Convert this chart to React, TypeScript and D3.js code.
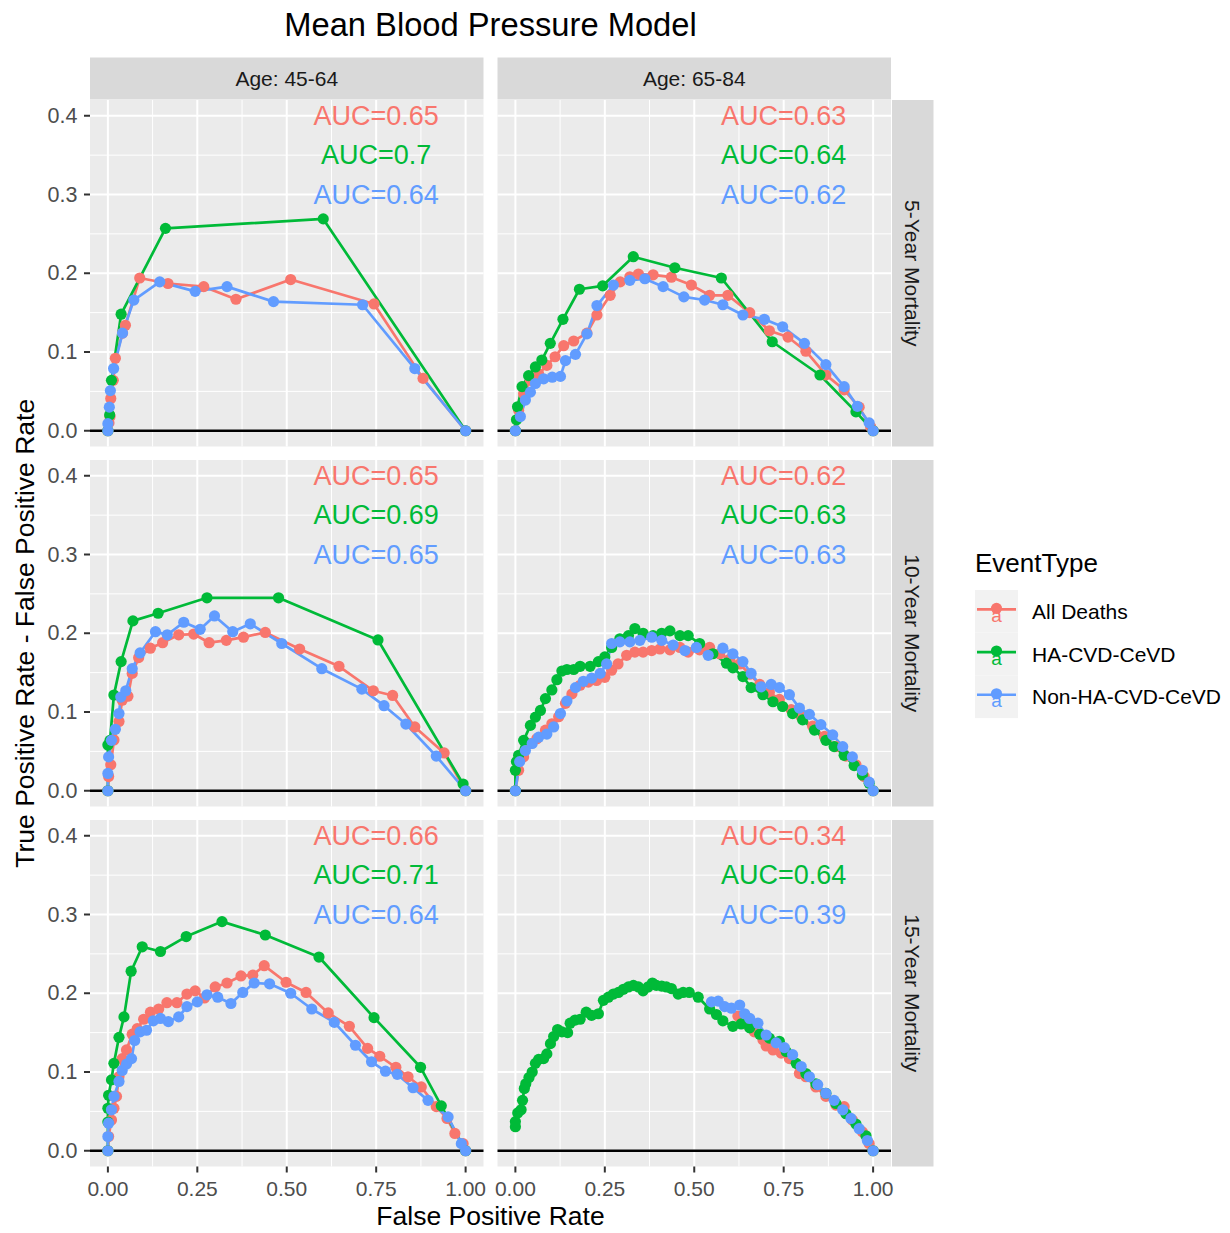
import React from 'react';
import * as d3 from 'd3';

const W = 1230;
const H = 1233;

const ageGroups = ['Age: 45-64', 'Age: 65-84'];
const horizons = ['5-Year Mortality', '10-Year Mortality', '15-Year Mortality'];
const eventTypes = ['All Deaths', 'HA-CVD-CeVD', 'Non-HA-CVD-CeVD'];
const eventColors = ['#F8766D', '#00BA38', '#619CFF'];

const xTicks = [0, 0.25, 0.5, 0.75, 1];
const yTicks = [0, 0.1, 0.2, 0.3, 0.4];
const xMinor = [0.125, 0.375, 0.625, 0.875];
const yMinor = [0.05, 0.15, 0.25, 0.35];

// AUC labels: [row][col][event]
const aucRow5 = [['AUC=0.65', 'AUC=0.7', 'AUC=0.64'], ['AUC=0.63', 'AUC=0.64', 'AUC=0.62']];
const aucRow10 = [['AUC=0.65', 'AUC=0.69', 'AUC=0.65'], ['AUC=0.62', 'AUC=0.63', 'AUC=0.63']];
const aucRow15 = [['AUC=0.66', 'AUC=0.71', 'AUC=0.64'], ['AUC=0.34', 'AUC=0.64', 'AUC=0.39']];
const aucLabelY = [0.4, 0.35, 0.3];
const aucLabelX = 0.75;

type Pt = [number, number];

// 5-Year, Age 45-64
const y5a45_all: Pt[] = [[0,0],[0.003,0.01],[0.006,0.018],[0.008,0.041],[0.015,0.064],[0.021,0.092],[0.041,0.124],[0.049,0.134],[0.089,0.194],[0.168,0.187],[0.268,0.183],[0.358,0.167],[0.511,0.192],[0.744,0.161],[0.881,0.0665],[1,0]];
const y5a45_ha: Pt[] = [[0,0],[0.005,0.02],[0.01,0.064],[0.037,0.148],[0.161,0.257],[0.602,0.269],[1,0]];
const y5a45_non: Pt[] = [[0,0],[0,0.009],[0.004,0.03],[0.007,0.051],[0.016,0.079],[0.041,0.124],[0.0725,0.166],[0.145,0.189],[0.244,0.177],[0.333,0.183],[0.463,0.164],[0.712,0.16],[0.858,0.079],[1,0]];

// 5-Year, Age 65-84
const y5a65_all: Pt[] = [[0,0],[0.009,0.026],[0.023,0.047],[0.042,0.064],[0.065,0.072],[0.088,0.083],[0.111,0.094],[0.135,0.108],[0.163,0.114],[0.2,0.124],[0.228,0.147],[0.265,0.172],[0.293,0.189],[0.32,0.1955],[0.344,0.199],[0.385,0.198],[0.436,0.195],[0.492,0.185],[0.543,0.172],[0.594,0.172],[0.655,0.15],[0.71,0.127],[0.762,0.119],[0.812,0.101],[0.868,0.071],[0.919,0.052],[0.961,0.03],[0.993,0.005],[1,0]];
const y5a65_ha: Pt[] = [[0,0],[0.003,0.014],[0.006,0.0305],[0.0186,0.056],[0.037,0.07],[0.056,0.081],[0.074,0.0898],[0.0975,0.111],[0.133,0.1415],[0.179,0.1797],[0.244,0.184],[0.3296,0.221],[0.4457,0.207],[0.5757,0.194],[0.718,0.113],[0.8515,0.0708],[0.952,0.024],[1,0]];
const y5a65_non: Pt[] = [[0,0],[0.014,0.018],[0.028,0.039],[0.042,0.049],[0.056,0.06],[0.079,0.066],[0.103,0.068],[0.126,0.069],[0.14,0.089],[0.168,0.097],[0.2,0.123],[0.228,0.159],[0.274,0.185],[0.32,0.191],[0.362,0.193],[0.413,0.183],[0.471,0.17],[0.529,0.166],[0.58,0.16],[0.636,0.147],[0.696,0.1415],[0.747,0.132],[0.808,0.111],[0.868,0.084],[0.919,0.056],[0.956,0.031],[0.989,0.01],[1,0]];

// 10-Year, Age 45-64
const y10a45_all: Pt[] = [[0,0],[0.002,0.018],[0.008,0.033],[0.017,0.0645],[0.031,0.088],[0.04,0.115],[0.056,0.12],[0.068,0.149],[0.086,0.169],[0.1187,0.181],[0.153,0.188],[0.198,0.198],[0.24,0.199],[0.283,0.188],[0.331,0.191],[0.379,0.195],[0.44,0.201],[0.536,0.18],[0.646,0.158],[0.742,0.127],[0.796,0.121],[0.858,0.081],[0.94,0.048],[1,0]];
const y10a45_ha: Pt[] = [[0,0],[0,0.058],[0.006,0.064],[0.0168,0.1216],[0.037,0.164],[0.07,0.2157],[0.1404,0.2254],[0.277,0.245],[0.477,0.245],[0.755,0.1915],[0.993,0.0085],[1,0]];
const y10a45_non: Pt[] = [[0,0],[0,0.022],[0.002,0.043],[0.01,0.064],[0.021,0.078],[0.031,0.098],[0.036,0.119],[0.05,0.127],[0.068,0.155],[0.09,0.175],[0.133,0.202],[0.166,0.198],[0.212,0.214],[0.258,0.205],[0.298,0.222],[0.349,0.202],[0.398,0.212],[0.486,0.187],[0.598,0.155],[0.71,0.129],[0.772,0.108],[0.833,0.0847],[0.918,0.044],[1,0]];

// 10-Year, Age 65-84
const y10a65_all: Pt[] = [[0,0],[0.009,0.026],[0.023,0.043],[0.042,0.06],[0.06,0.066],[0.084,0.077],[0.102,0.085],[0.121,0.094],[0.14,0.111],[0.158,0.123],[0.181,0.134],[0.204,0.138],[0.227,0.14],[0.25,0.144],[0.269,0.153],[0.287,0.161],[0.311,0.172],[0.334,0.176],[0.357,0.176],[0.381,0.178],[0.404,0.18],[0.432,0.179],[0.46,0.182],[0.483,0.176],[0.515,0.179],[0.543,0.182],[0.571,0.174],[0.599,0.167],[0.627,0.161],[0.655,0.148],[0.683,0.135],[0.71,0.125],[0.738,0.116],[0.771,0.103],[0.799,0.094],[0.831,0.082],[0.864,0.069],[0.896,0.056],[0.924,0.044],[0.952,0.033],[0.975,0.018],[1,0]];
const y10a65_ha: Pt[] = [[0,0],[0,0.026],[0.003,0.037],[0.009,0.045],[0.023,0.064],[0.042,0.083],[0.056,0.0935],[0.07,0.102],[0.084,0.117],[0.102,0.128],[0.116,0.141],[0.13,0.152],[0.144,0.154],[0.163,0.154],[0.181,0.158],[0.209,0.158],[0.232,0.164],[0.25,0.17],[0.269,0.182],[0.292,0.193],[0.316,0.197],[0.334,0.206],[0.357,0.2],[0.385,0.197],[0.409,0.2],[0.432,0.203],[0.46,0.197],[0.483,0.197],[0.515,0.187],[0.552,0.174],[0.59,0.162],[0.608,0.156],[0.636,0.145],[0.659,0.131],[0.692,0.122],[0.72,0.113],[0.747,0.107],[0.775,0.098],[0.803,0.09],[0.836,0.077],[0.868,0.064],[0.891,0.056],[0.919,0.045],[0.947,0.032],[0.97,0.02],[0.989,0.0095],[1,0]];
const y10a65_non: Pt[] = [[0,0],[0.012,0.037],[0.028,0.051],[0.047,0.06],[0.065,0.068],[0.088,0.072],[0.107,0.081],[0.126,0.098],[0.144,0.114],[0.168,0.131],[0.19,0.139],[0.213,0.143],[0.237,0.149],[0.255,0.161],[0.269,0.187],[0.292,0.189],[0.32,0.189],[0.348,0.191],[0.381,0.195],[0.409,0.191],[0.441,0.185],[0.474,0.178],[0.506,0.182],[0.539,0.172],[0.58,0.181],[0.608,0.174],[0.636,0.164],[0.659,0.149],[0.687,0.132],[0.715,0.135],[0.738,0.131],[0.766,0.122],[0.794,0.105],[0.822,0.097],[0.854,0.084],[0.887,0.071],[0.915,0.056],[0.942,0.043],[0.97,0.026],[0.989,0.011],[1,0]];

// 15-Year, Age 45-64
const y15a45_all: Pt[] = [[0,0],[0.002,0.018],[0.01,0.039],[0.017,0.054],[0.024,0.069],[0.031,0.094],[0.04,0.117],[0.052,0.128],[0.068,0.148],[0.082,0.155],[0.1,0.167],[0.119,0.176],[0.142,0.18],[0.165,0.188],[0.193,0.188],[0.221,0.199],[0.244,0.203],[0.27,0.194],[0.3,0.208],[0.333,0.213],[0.372,0.222],[0.405,0.223],[0.437,0.235],[0.498,0.214],[0.554,0.201],[0.616,0.175],[0.675,0.158],[0.726,0.13],[0.76,0.12],[0.805,0.106],[0.839,0.094],[0.876,0.081],[0.918,0.056],[0.948,0.041],[0.97,0.022],[0.993,0.009],[1,0]];
const y15a45_ha: Pt[] = [[0,0],[0,0.0365],[0,0.054],[0.002,0.0705],[0.01,0.09],[0.0168,0.111],[0.031,0.144],[0.045,0.17],[0.065,0.228],[0.096,0.259],[0.147,0.253],[0.219,0.272],[0.319,0.291],[0.44,0.274],[0.59,0.246],[0.744,0.169],[0.874,0.106],[0.932,0.057],[1,0]];
const y15a45_non: Pt[] = [[0,0],[0,0.018],[0.002,0.035],[0.01,0.052],[0.017,0.069],[0.031,0.088],[0.04,0.102],[0.052,0.11],[0.066,0.117],[0.075,0.14],[0.09,0.151],[0.108,0.153],[0.127,0.165],[0.147,0.168],[0.169,0.164],[0.198,0.17],[0.221,0.183],[0.25,0.189],[0.277,0.198],[0.307,0.195],[0.344,0.187],[0.377,0.201],[0.409,0.213],[0.452,0.212],[0.511,0.2],[0.57,0.18],[0.633,0.163],[0.692,0.134],[0.737,0.113],[0.776,0.101],[0.809,0.097],[0.853,0.08],[0.895,0.064],[0.951,0.043],[0.988,0.009],[1,0]];

// 15-Year, Age 65-84
const y15a65_all: Pt[] = [[0.622,0.171],[0.645,0.161],[0.668,0.151],[0.692,0.141],[0.701,0.133],[0.72,0.128],[0.743,0.124],[0.766,0.117],[0.794,0.098],[0.812,0.094],[0.84,0.081],[0.868,0.069],[0.896,0.058],[0.919,0.056],[0.942,0.039],[0.97,0.024],[0.989,0.009],[1,0]];
const y15a65_ha: Pt[] = [[0,0.0305],[0,0.037],[0.0065,0.048],[0.016,0.052],[0.02,0.064],[0.025,0.079],[0.029,0.085],[0.038,0.093],[0.047,0.1],[0.056,0.111],[0.065,0.116],[0.079,0.117],[0.088,0.123],[0.098,0.136],[0.107,0.145],[0.118,0.154],[0.13,0.151],[0.146,0.15],[0.153,0.162],[0.167,0.166],[0.181,0.167],[0.198,0.176],[0.213,0.172],[0.232,0.174],[0.246,0.191],[0.26,0.195],[0.274,0.199],[0.288,0.201],[0.302,0.205],[0.316,0.208],[0.33,0.21],[0.344,0.208],[0.357,0.203],[0.371,0.208],[0.383,0.213],[0.394,0.21],[0.409,0.209],[0.422,0.208],[0.436,0.206],[0.455,0.199],[0.469,0.201],[0.486,0.201],[0.511,0.195],[0.543,0.18],[0.562,0.173],[0.58,0.165],[0.608,0.158],[0.631,0.161],[0.655,0.156],[0.683,0.148],[0.71,0.143],[0.738,0.139],[0.757,0.126],[0.785,0.111],[0.812,0.098],[0.84,0.085],[0.868,0.073],[0.896,0.06],[0.924,0.047],[0.952,0.034],[0.98,0.019],[1,0]];
const y15a65_non: Pt[] = [[0.548,0.189],[0.567,0.19],[0.585,0.183],[0.604,0.181],[0.627,0.185],[0.641,0.174],[0.655,0.168],[0.678,0.162],[0.701,0.147],[0.729,0.137],[0.752,0.131],[0.775,0.122],[0.799,0.107],[0.822,0.094],[0.845,0.084],[0.868,0.073],[0.891,0.064],[0.915,0.052],[0.938,0.041],[0.961,0.028],[0.984,0.013],[1,0]];

const panelData: Pt[][][][] = [
  [[y5a45_all, y5a45_ha, y5a45_non], [y5a65_all, y5a65_ha, y5a65_non]],
  [[y10a45_all, y10a45_ha, y10a45_non], [y10a65_all, y10a65_ha, y10a65_non]],
  [[y15a45_all, y15a45_ha, y15a45_non], [y15a65_all, y15a65_ha, y15a65_non]],
];
const aucLabels = [aucRow5, aucRow10, aucRow15];

const FONT = '"Liberation Sans", Arial, Helvetica, sans-serif';

const panelLeft = [90, 497.5];
const panelW = 393.5;
const panelTop = [100, 460, 820];
const panelH = 346.5;

export default function App() {
  const xScales = panelLeft.map((l) => d3.scaleLinear().domain([-0.05, 1.05]).range([l, l + panelW]));
  const yScales = panelTop.map((t) => d3.scaleLinear().domain([-0.02, 0.42]).range([t + panelH, t]));
  const yAxisTicksFmt = d3.format('.1f');
  const xAxisTicksFmt = d3.format('.2f');

  const panels: React.ReactNode[] = [];
  panelTop.forEach((top, r) => {
    panelLeft.forEach((left, c) => {
      const xs = xScales[c];
      const ys = yScales[r];
      const line = d3.line<Pt>().x((d) => xs(d[0])).y((d) => ys(d[1]));
      const series = panelData[r][c];
      panels.push(
        <g key={`p${r}${c}`}>
          <rect x={left} y={top} width={panelW} height={panelH} fill="#EBEBEB" />
          {xMinor.map((v) => (
            <line key={`xm${v}`} x1={xs(v)} x2={xs(v)} y1={top} y2={top + panelH} stroke="#FFFFFF" strokeWidth={1} />
          ))}
          {yMinor.map((v) => (
            <line key={`ym${v}`} x1={left} x2={left + panelW} y1={ys(v)} y2={ys(v)} stroke="#FFFFFF" strokeWidth={1} />
          ))}
          {xTicks.map((v) => (
            <line key={`xM${v}`} x1={xs(v)} x2={xs(v)} y1={top} y2={top + panelH} stroke="#FFFFFF" strokeWidth={2} />
          ))}
          {yTicks.map((v) => (
            <line key={`yM${v}`} x1={left} x2={left + panelW} y1={ys(v)} y2={ys(v)} stroke="#FFFFFF" strokeWidth={2} />
          ))}
          <line x1={left} x2={left + panelW} y1={ys(0)} y2={ys(0)} stroke="#000000" strokeWidth={2.5} />
          {series.map((s, i) => (
            <path key={`l${i}`} d={line(s) || ''} fill="none" stroke={eventColors[i]} strokeWidth={2.7} strokeLinejoin="round" />
          ))}
          {series.map((s, i) => (
            <g key={`pt${i}`}>
              {s.map((d, j) => (
                <circle key={j} cx={xs(d[0])} cy={ys(d[1])} r={5.6} fill={eventColors[i]} />
              ))}
            </g>
          ))}
          {aucLabels[r][c].map((t, i) => (
            <text key={`a${i}`} x={xs(aucLabelX)} y={ys(aucLabelY[i])} fill={eventColors[i]} fontSize={27}
              textAnchor="middle" dominantBaseline="central" fontFamily={FONT}>{t}</text>
          ))}
        </g>
      );
    });
  });

  // strips
  const topStrips = panelLeft.map((left, c) => (
    <g key={`st${c}`}>
      <rect x={left} y={57.5} width={panelW} height={42} fill="#D9D9D9" />
      <text x={left + panelW / 2} y={78.5} fontSize={21} fill="#1A1A1A" textAnchor="middle" dominantBaseline="central" fontFamily={FONT}>{ageGroups[c]}</text>
    </g>
  ));
  const stripRightX = panelLeft[1] + panelW + 1;
  const rightStrips = panelTop.map((top, r) => (
    <g key={`sr${r}`}>
      <rect x={stripRightX} y={top} width={41.5} height={panelH} fill="#D9D9D9" />
      <text transform={`translate(${stripRightX + 20.75},${top + panelH / 2}) rotate(90)`} fontSize={21} fill="#1A1A1A"
        textAnchor="middle" dominantBaseline="central" fontFamily={FONT}>{horizons[r]}</text>
    </g>
  ));

  // axes
  const yAxes = panelTop.map((top, r) => (
    <g key={`ya${r}`}>
      {yTicks.map((v) => (
        <g key={v}>
          <line x1={panelLeft[0] - 6} x2={panelLeft[0]} y1={yScales[r](v)} y2={yScales[r](v)} stroke="#333333" strokeWidth={2} />
          <text x={panelLeft[0] - 12.5} y={yScales[r](v)} fontSize={21.5} fill="#4D4D4D" textAnchor="end" dominantBaseline="central" fontFamily={FONT}>{yAxisTicksFmt(v)}</text>
        </g>
      ))}
    </g>
  ));
  const bottom = panelTop[2] + panelH;
  const xAxes = panelLeft.map((left, c) => (
    <g key={`xa${c}`}>
      {xTicks.map((v) => (
        <g key={v}>
          <line x1={xScales[c](v)} x2={xScales[c](v)} y1={bottom} y2={bottom + 6} stroke="#333333" strokeWidth={2} />
          <text x={xScales[c](v)} y={bottom + 22} fontSize={21} fill="#4D4D4D" textAnchor="middle" dominantBaseline="central" fontFamily={FONT}>{xAxisTicksFmt(v)}</text>
        </g>
      ))}
    </g>
  ));

  const plotCenterX = (panelLeft[0] + panelLeft[1] + panelW) / 2;
  const plotCenterY = (panelTop[0] + bottom) / 2;

  // legend
  const legendX = 975;
  const legendKeyTop = 590;
  const keyH = 42.7;
  const legend = (
    <g>
      <text x={legendX} y={572} fontSize={26} fill="#000000" fontFamily={FONT}>EventType</text>
      {eventTypes.map((name, i) => {
        const cy = legendKeyTop + keyH * i + keyH / 2;
        return (
          <g key={name}>
            <rect x={legendX} y={legendKeyTop + keyH * i} width={43} height={keyH} fill="#F2F2F2" />
            <line x1={legendX + 2} x2={legendX + 41} y1={cy - 2} y2={cy - 2} stroke={eventColors[i]} strokeWidth={2.7} />
            <circle cx={legendX + 21.5} cy={cy - 3} r={5.6} fill={eventColors[i]} />
            <text x={legendX + 21.5} y={cy + 4} fontSize={19} fill={eventColors[i]} textAnchor="middle" dominantBaseline="central" fontFamily={FONT}>a</text>
            <text x={1032} y={cy} fontSize={21} fill="#000000" dominantBaseline="central" fontFamily={FONT}>{name}</text>
          </g>
        );
      })}
    </g>
  );

  return (
    <svg width={W} height={H} style={{ position: 'absolute', left: 0, top: 0, background: '#FFFFFF' }} xmlns="http://www.w3.org/2000/svg">
      <rect x={0} y={0} width={W} height={H} fill="#FFFFFF" />
      <text x={plotCenterX} y={36} fontSize={32.7} fill="#000000" textAnchor="middle" fontFamily={FONT}>Mean Blood Pressure Model</text>
      {topStrips}
      {rightStrips}
      {panels}
      {yAxes}
      {xAxes}
      <text x={plotCenterX} y={1225} fontSize={26.5} fill="#000000" textAnchor="middle" fontFamily={FONT}>False Positive Rate</text>
      <text transform={`translate(34,${plotCenterY}) rotate(-90)`} fontSize={26.5} fill="#000000" textAnchor="middle" fontFamily={FONT}>True Positive Rate - False Positive Rate</text>
      {legend}
    </svg>
  );
}
